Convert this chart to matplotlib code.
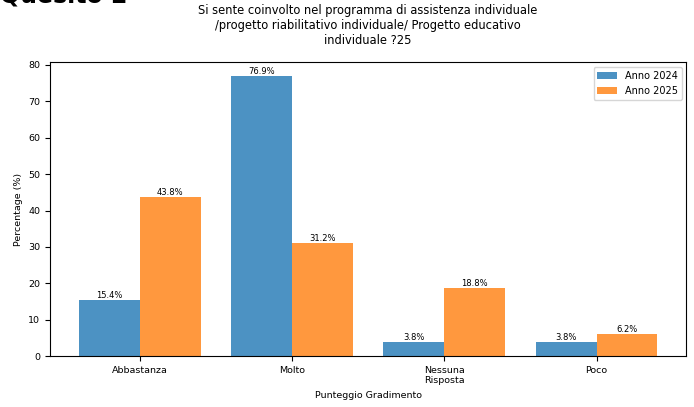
import matplotlib
matplotlib.use("Agg")
import matplotlib.pyplot as plt
import numpy as np

categories = ["Abbastanza", "Molto", "Nessuna\nRisposta", "Poco"]
values_2024 = [15.4, 76.9, 3.8, 3.8]
values_2025 = [43.8, 31.2, 18.8, 6.2]
series_labels = ["Anno 2024", "Anno 2025"]
title = ("Si sente coinvolto nel programma di assistenza individuale\n"
         "/progetto riabilitativo individuale/ Progetto educativo\n"
         "individuale ?25")

fig = plt.figure(figsize=(6.94, 4.07), dpi=100)
ax = fig.add_axes([0.072, 0.125, 0.917, 0.722])

x = np.arange(len(categories))
w = 0.4
b1 = ax.bar(x - w/2, values_2024, w, color="#1f77b4", alpha=0.8, label=series_labels[0])
b2 = ax.bar(x + w/2, values_2025, w, color="#ff7f0e", alpha=0.8, label=series_labels[1])

for bars, vals in ((b1, values_2024), (b2, values_2025)):
    for r, v in zip(bars, vals):
        ax.text(r.get_x() + r.get_width()/2, r.get_height(), f"{v}%",
                ha="center", va="bottom", fontsize=6)

ax.set_xticks(x)
ax.set_xticklabels(categories, fontsize=6.8)
ax.tick_params(axis="y", labelsize=6.8)
ax.set_xlabel("Punteggio Gradimento", fontsize=6.8)
ax.set_ylabel("Percentage (%)", fontsize=6.8)
ax.set_title(title, fontsize=8.3, pad=13)
ax.legend(fontsize=7, loc="upper right")

fig.text(0.0, 1.0 - 2/407, "Quesito 2", fontsize=17, fontweight="bold",
         ha="left", va="baseline")

fig.savefig("out.png", dpi=100)
